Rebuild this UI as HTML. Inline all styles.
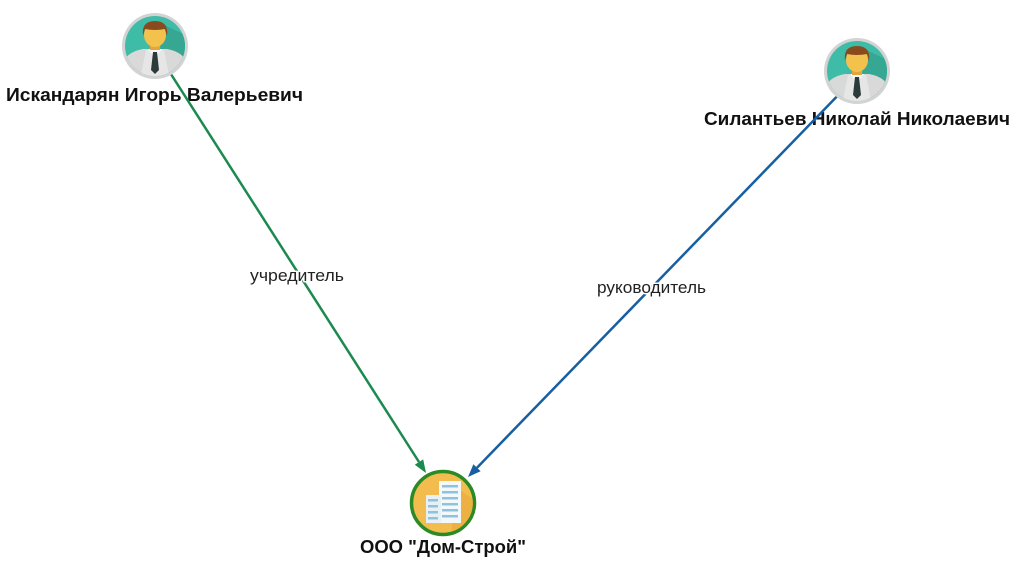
<!DOCTYPE html>
<html><head><meta charset="utf-8"><style>
html,body{margin:0;padding:0;background:#fff;}
svg{display:block;}
text{font-family:"Liberation Sans",Arial,sans-serif;}
</style></head><body>
<svg width="1024" height="588" viewBox="0 0 1024 588" xmlns="http://www.w3.org/2000/svg">
<defs>
  <clipPath id="c1"><circle cx="155" cy="46" r="30"/></clipPath>
  <clipPath id="c2"><circle cx="857" cy="71" r="30"/></clipPath>
  <clipPath id="c3"><circle cx="443" cy="503" r="30"/></clipPath>
</defs>

<!-- node names -->
<g font-weight="bold" font-size="18.5" fill="#111" stroke="#fff" stroke-width="3" paint-order="stroke" stroke-linejoin="round">
  <text x="6" y="101" textLength="297" lengthAdjust="spacingAndGlyphs">Искандарян Игорь Валерьевич</text>
  <text x="704" y="125" textLength="306" lengthAdjust="spacingAndGlyphs">Силантьев Николай Николаевич</text>
  <text x="360" y="553" textLength="166" lengthAdjust="spacingAndGlyphs">ООО "Дом-Строй"</text>
</g>

<!-- edges -->
<line x1="160" y1="57" x2="419" y2="462" stroke="#1c8a4f" stroke-width="2.5"/>
<polygon points="426,473 414.8,464.8 423.2,459.4" fill="#1c8a4f"/>
<line x1="848" y1="85" x2="477" y2="467.7" stroke="#175fa1" stroke-width="2.5"/>
<polygon points="468,477 473.4,464.2 480.6,471.2" fill="#175fa1"/>

<!-- edge labels -->
<g font-size="16.5" fill="#222" stroke="#fff" stroke-width="3" paint-order="stroke" stroke-linejoin="round">
  <text x="250" y="281" textLength="94" lengthAdjust="spacingAndGlyphs">учредитель</text>
  <text x="597" y="293" textLength="109" lengthAdjust="spacingAndGlyphs">руководитель</text>
</g>

<!-- person 1 -->
<g>
  <circle cx="155" cy="46" r="33" fill="#d3d3d3"/>
  <circle cx="155" cy="46" r="30" fill="#3fbca7"/>
  <g clip-path="url(#c1)">
    <polygon points="162,24 192,38 192,80 158,80" fill="#35a793"/>
    <path d="M122,80 L124,62 Q127,52 143,49 L167,49 Q183,52 186,62 L188,80 Z" fill="#d9d9d9"/>
    <path d="M140,80 L146,50 L164,50 L170,80 Z" fill="#e6e6e6"/>
    <path d="M148,49 L155,58 L162,49 Z" fill="#f7f7f7"/>
    <rect x="150" y="41" width="10" height="9" fill="#e4a63c"/>
    <path d="M153,52 L157,52 L159,70 L155,74 L151,70 Z" fill="#2c3a3a"/>
    <ellipse cx="155" cy="35" rx="11" ry="12" fill="#f3c24d"/>
    <path d="M143,36 Q141,21 155,21 Q169,21 167,36 L165,29 Q155,31 145,29 Z" fill="#8a4a1f"/>
  </g>
</g>

<!-- person 2 -->
<g>
  <circle cx="857" cy="71" r="33" fill="#d3d3d3"/>
  <circle cx="857" cy="71" r="30" fill="#3fbca7"/>
  <g clip-path="url(#c2)">
    <polygon points="864,49 894,63 894,105 860,105" fill="#35a793"/>
    <path d="M824,105 L826,87 Q829,77 845,74 L869,74 Q885,77 888,87 L890,105 Z" fill="#d9d9d9"/>
    <path d="M842,105 L848,75 L866,75 L872,105 Z" fill="#e6e6e6"/>
    <path d="M850,74 L857,83 L864,74 Z" fill="#f7f7f7"/>
    <rect x="852" y="66" width="10" height="9" fill="#e4a63c"/>
    <path d="M855,77 L859,77 L861,95 L857,99 L853,95 Z" fill="#2c3a3a"/>
    <ellipse cx="857" cy="60" rx="11" ry="12" fill="#f3c24d"/>
    <path d="M845,61 Q843,46 857,46 Q871,46 869,61 L867,54 Q857,56 847,54 Z" fill="#8a4a1f"/>
  </g>
</g>

<!-- company -->
<g>
  <circle cx="443" cy="503" r="31.5" fill="#f2bd4e" stroke="#2a8a24" stroke-width="3.5"/>
  <g clip-path="url(#c3)">
    <polygon points="452,485 475,500 475,540 452,540" fill="#e8a93a" opacity="0.6"/>
    <rect x="439" y="481" width="22" height="42" fill="#f3f8fb"/>
    <rect x="426" y="495" width="15" height="28" fill="#e6f0f5"/>
    <g fill="#8fc3dd">
      <rect x="442" y="485" width="16" height="2.5"/>
      <rect x="442" y="491" width="16" height="2.5"/>
      <rect x="442" y="497" width="16" height="2.5"/>
      <rect x="442" y="503" width="16" height="2.5"/>
      <rect x="442" y="509" width="16" height="2.5"/>
      <rect x="442" y="515" width="16" height="2.5"/>
      <rect x="428" y="499" width="10" height="2.5"/>
      <rect x="428" y="505" width="10" height="2.5"/>
      <rect x="428" y="511" width="10" height="2.5"/>
      <rect x="428" y="517" width="10" height="2.5"/>
    </g>
  </g>
</g>
</svg>
</body></html>
